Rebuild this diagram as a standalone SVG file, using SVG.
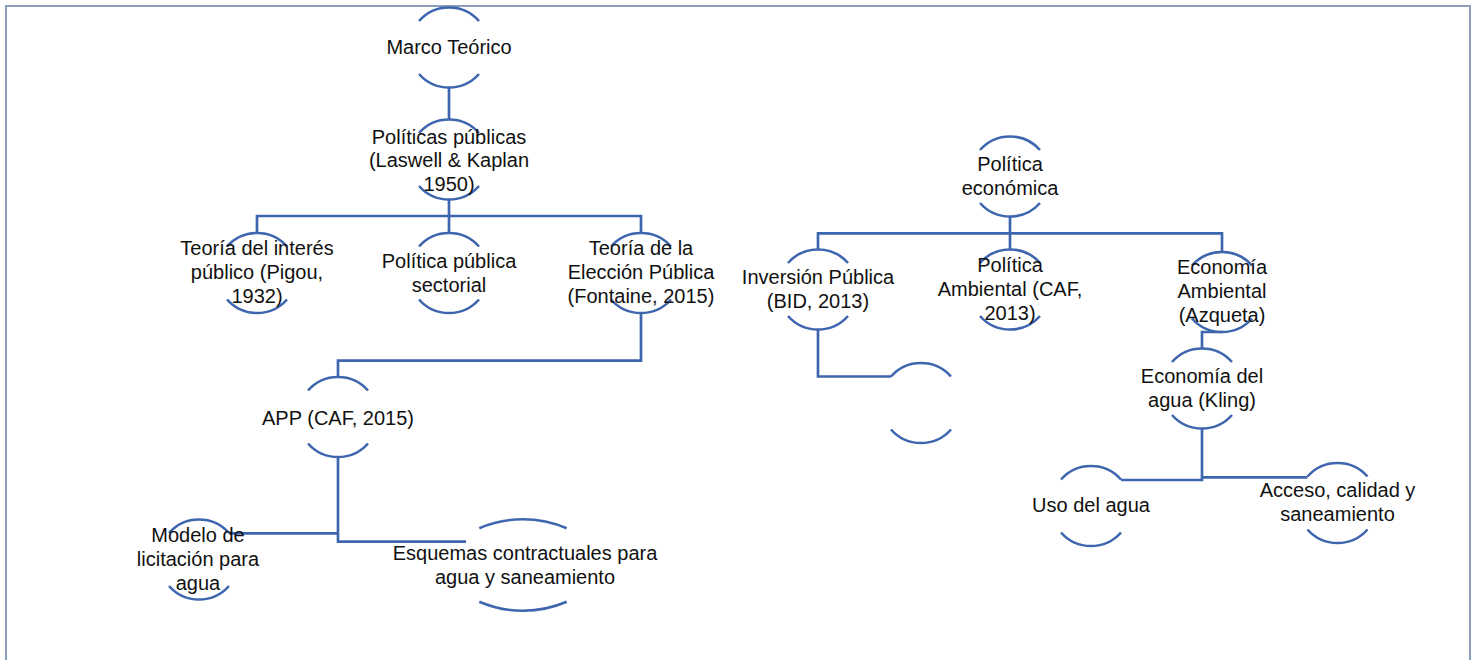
<svg xmlns="http://www.w3.org/2000/svg" width="1477" height="660" viewBox="0 0 1477 660">
<style>
.arc{fill:none;stroke:#3E66AE;stroke-width:2.6}
.con{fill:none;stroke:#3E66AE;stroke-width:2.7}
text{font-family:"Liberation Sans",Arial,sans-serif;font-size:20px;fill:#111;text-anchor:middle}
</style>
<rect x="6" y="6" width="1464" height="680" fill="#fff" stroke="#8A9DBA" stroke-width="2"/>
<g id="connectors">
<path class="con" d="M449,87.5 V119.5"/>
<path class="con" d="M449,199.5 V233"/>
<path class="con" d="M257,233 V216 H641 V233"/>
<path class="con" d="M641,313 V360.7 H338 V377"/>
<path class="con" d="M338,457 V541.7 H466"/>
<path class="con" d="M338,533.3 H229"/>
<path class="con" d="M1010,216.5 V249.5"/>
<path class="con" d="M818,249.5 V233.3 H1222 V252"/>
<path class="con" d="M818,329.5 V376.5 H891"/>
<path class="con" d="M1222,332 H1202 V348.5"/>
<path class="con" d="M1202,428.5 V480 H1121"/>
<path class="con" d="M1202,477.3 H1307.5"/>
</g>
<g id="n-marco">
<path class="arc" d="M419,21 A40,40 0 0 1 479,21 M419,74 A40,40 0 0 0 479,74"/>
<text x="449" y="54">Marco Teórico</text>
</g>
<g id="n-politicas">
<path class="arc" d="M419,133 A40,40 0 0 1 479,133 M419,186 A40,40 0 0 0 479,186"/>
<text x="449" y="143.5">Políticas públicas</text>
<text x="449" y="167">(Laswell &amp; Kaplan</text>
<text x="449" y="190.5">1950)</text>
</g>
<g id="n-interes">
<path class="arc" d="M227,246.5 A40,40 0 0 1 287,246.5 M227,299.5 A40,40 0 0 0 287,299.5"/>
<text x="257" y="255">Teoría del interés</text>
<text x="257" y="279">público (Pigou,</text>
<text x="257" y="303">1932)</text>
</g>
<g id="n-sectorial">
<path class="arc" d="M419,246.5 A40,40 0 0 1 479,246.5 M419,299.5 A40,40 0 0 0 479,299.5"/>
<text x="449" y="267.5">Política pública</text>
<text x="449" y="291.5">sectorial</text>
</g>
<g id="n-eleccion">
<path class="arc" d="M611,246.5 A40,40 0 0 1 671,246.5 M611,299.5 A40,40 0 0 0 671,299.5"/>
<text x="641" y="255">Teoría de la</text>
<text x="641" y="279">Elección Pública</text>
<text x="641" y="303">(Fontaine, 2015)</text>
</g>
<g id="n-app">
<path class="arc" d="M308,390.5 A40,40 0 0 1 368,390.5 M308,443.5 A40,40 0 0 0 368,443.5"/>
<text x="338" y="424.5">APP (CAF, 2015)</text>
</g>
<g id="n-modelo">
<path class="arc" d="M169,533 A40,40 0 0 1 229,533 M169,586 A40,40 0 0 0 229,586"/>
<text x="198" y="542">Modelo de</text>
<text x="198" y="566">licitación para</text>
<text x="198" y="590">agua</text>
</g>
<g id="n-esquemas">
<path class="arc" d="M479.3,528.3 A110.6,110.6 0 0 1 566.7,528.3 M479.3,601.7 A110.6,110.6 0 0 0 566.7,601.7"/>
<text x="525" y="560">Esquemas contractuales para</text>
<text x="525" y="584">agua y saneamiento</text>
</g>
<g id="n-economica">
<path class="arc" d="M980,150 A40,40 0 0 1 1040,150 M980,203 A40,40 0 0 0 1040,203"/>
<text x="1010" y="171">Política</text>
<text x="1010" y="195">económica</text>
</g>
<g id="n-inversion">
<path class="arc" d="M788,263 A40,40 0 0 1 848,263 M788,316 A40,40 0 0 0 848,316"/>
<text x="818" y="284">Inversión Pública</text>
<text x="818" y="308">(BID, 2013)</text>
</g>
<g id="n-ambiental">
<path class="arc" d="M980,263 A40,40 0 0 1 1040,263 M980,316 A40,40 0 0 0 1040,316"/>
<text x="1010" y="272">Política</text>
<text x="1010" y="296">Ambiental (CAF,</text>
<text x="1010" y="320">2013)</text>
</g>
<g id="n-econ-ambiental">
<path class="arc" d="M1192,265.5 A40,40 0 0 1 1252,265.5 M1192,318.5 A40,40 0 0 0 1252,318.5"/>
<text x="1222" y="274">Economía</text>
<text x="1222" y="298">Ambiental</text>
<text x="1222" y="321.5">(Azqueta)</text>
</g>
<g id="n-empty">
<path class="arc" d="M891,376.5 A40,40 0 0 1 951,376.5 M891,429.5 A40,40 0 0 0 951,429.5"/>
</g>
<g id="n-agua">
<path class="arc" d="M1172,362 A40,40 0 0 1 1232,362 M1172,415 A40,40 0 0 0 1232,415"/>
<text x="1202" y="383">Economía del</text>
<text x="1202" y="407">agua (Kling)</text>
</g>
<g id="n-uso">
<path class="arc" d="M1061,479.5 A40,40 0 0 1 1121,479.5 M1061,532.5 A40,40 0 0 0 1121,532.5"/>
<text x="1091" y="512">Uso del agua</text>
</g>
<g id="n-acceso">
<path class="arc" d="M1307.5,476.5 A40,40 0 0 1 1367.5,476.5 M1307.5,529.5 A40,40 0 0 0 1367.5,529.5"/>
<text x="1337.5" y="497">Acceso, calidad y</text>
<text x="1337.5" y="521">saneamiento</text>
</g>
</svg>
